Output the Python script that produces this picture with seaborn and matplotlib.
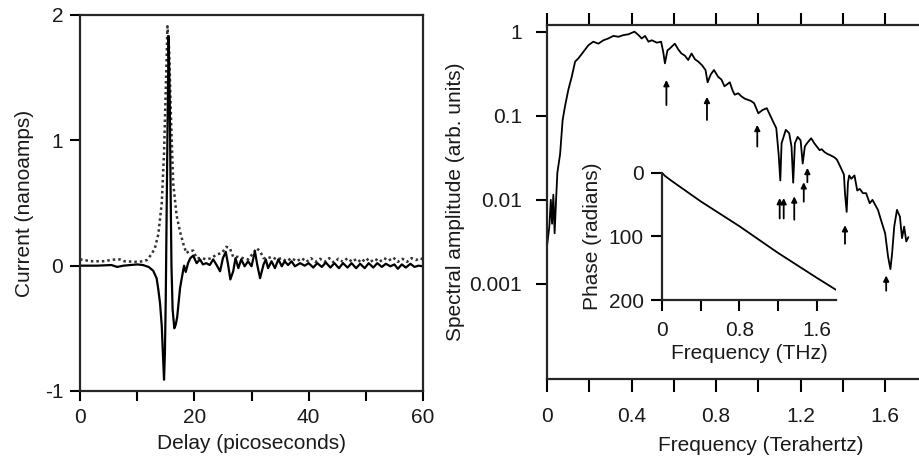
import matplotlib
matplotlib.use("Agg")
import matplotlib.pyplot as plt
import seaborn as sns
import pandas as pd

# ---- left panel: time-domain current (solid = sample, dotted = envelope)
delay_solid = [0, 3, 5.5, 6.5, 7.6, 10, 11, 12, 12.8, 13.4, 13.7, 14.0, 14.3, 14.5, 14.7,
               14.85, 15.0, 15.15, 15.3, 15.5, 15.7, 15.85, 16.0, 16.2, 16.5, 16.75, 17.0,
               17.5, 17.8, 18.2, 18.5, 18.9, 19.3, 19.8, 20.4, 21.0, 21.5, 22.1, 22.7, 23.3,
               23.9, 24.5, 25.0, 25.5, 25.9, 26.3, 26.8, 27.2, 27.7, 28.2, 28.8, 29.4, 30.0,
               30.6, 31.0, 31.5, 32.1, 32.5, 32.9, 33.5, 34.1, 34.7, 35.3, 35.8, 36.4, 37.0,
               37.6, 38.5, 39.3, 40.0, 40.8, 41.5, 42.3, 43.0, 43.8, 44.5, 45.3, 46.0, 46.8,
               47.5, 48.3, 49.0, 49.8, 50.5, 51.3, 52.0, 52.8, 53.5, 54.3, 55.0, 55.6, 56.3,
               57.0, 57.8, 58.5, 59.2, 60.0]
current_solid = [0.0, 0.0, 0.005, -0.01, 0.0, 0.01, 0.005, -0.01, -0.04, -0.10, -0.19, -0.30,
                 -0.48, -0.70, -0.91, -0.70, -0.27, 0.40, 1.06, 1.83, 1.32, 0.60, 0.0, -0.35,
                 -0.50, -0.47, -0.41, -0.18, -0.10, 0.0, -0.05, 0.02, 0.06, 0.08, 0.02, 0.05,
                 0.01, 0.02, 0.005, 0.05, 0.005, -0.045, 0.06, 0.11, 0.01, -0.11, -0.045, 0.06,
                 -0.02, 0.05, -0.005, 0.035, -0.005, 0.115, 0.008, -0.10, 0.008, 0.05, -0.02,
                 0.035, -0.02, 0.05, -0.005, 0.035, 0.005, 0.035, -0.005, 0.02, 0.0, 0.02,
                 -0.015, 0.02, -0.01, 0.025, -0.015, 0.02, -0.02, 0.02, -0.015, 0.02, -0.02,
                 0.015, -0.02, 0.02, -0.015, 0.02, -0.01, 0.015, -0.005, 0.01, -0.025, 0.01,
                 -0.015, 0.015, -0.01, 0.0, -0.005]

delay_dotted = [0, 2, 4, 5.8, 7.0, 7.8, 10, 11.0, 11.7, 12.5, 13.1, 13.7, 14.3, 14.7, 15.0,
                15.3, 15.6, 15.9, 16.3, 16.9, 17.5, 18.1, 18.6, 19.2, 19.8, 20.4, 21.3, 22.1,
                23.0, 23.9, 24.8, 25.6, 26.2, 26.8, 27.7, 28.5, 29.4, 30.3, 30.9, 31.5, 32.1,
                32.9, 33.5, 34.4, 35.3, 36.1, 37.0, 37.9, 38.8, 39.6, 40.4, 41.2, 42.0, 42.8,
                43.6, 44.4, 45.2, 46.0, 46.8, 47.6, 48.4, 49.2, 50.0, 50.8, 51.6, 52.4, 53.2,
                54.0, 54.8, 55.6, 56.4, 57.2, 58.0, 58.8, 59.5, 60.0]
current_dotted = [0.05, 0.035, 0.035, 0.048, 0.05, 0.035, 0.03, 0.035, 0.045, 0.09, 0.14,
                  0.25, 0.50, 0.90, 1.40, 1.91, 1.72, 1.20, 0.66, 0.40, 0.27, 0.17, 0.10,
                  0.12, 0.12, 0.06, 0.06, 0.05, 0.06, 0.09, 0.10, 0.15, 0.14, 0.07, 0.07,
                  0.06, 0.05, 0.10, 0.14, 0.115, 0.06, 0.06, 0.07, 0.05, 0.06, 0.035, 0.06,
                  0.035, 0.06, 0.03, 0.06, 0.03, 0.055, 0.03, 0.06, 0.025, 0.055, 0.03, 0.06,
                  0.03, 0.055, 0.025, 0.06, 0.03, 0.055, 0.03, 0.06, 0.04, 0.065, 0.03, 0.055,
                  0.03, 0.06, 0.045, 0.06, 0.05]

# ---- right panel: spectral amplitude (log scale)
freq = [0.000, 0.011, 0.018, 0.024, 0.030, 0.036, 0.043, 0.049, 0.062, 0.074, 0.085, 0.101,
        0.117, 0.133, 0.148, 0.172, 0.196, 0.219, 0.243, 0.267, 0.290, 0.314, 0.338, 0.362,
        0.385, 0.414, 0.433, 0.448, 0.464, 0.480, 0.496, 0.520, 0.540, 0.550, 0.558, 0.570,
        0.581, 0.605, 0.620, 0.636, 0.652, 0.668, 0.684, 0.700, 0.716, 0.733, 0.750, 0.760,
        0.775, 0.790, 0.810, 0.825, 0.840, 0.865, 0.878, 0.888, 0.905, 0.920, 0.935, 0.950,
        0.965, 0.980, 1.000, 1.020, 1.040, 1.070, 1.085, 1.096, 1.104, 1.110, 1.130, 1.146,
        1.157, 1.165, 1.173, 1.186, 1.200, 1.210, 1.220, 1.230, 1.250, 1.265, 1.280, 1.290,
        1.300, 1.313, 1.328, 1.340, 1.360, 1.372, 1.384, 1.405, 1.410, 1.418, 1.424, 1.430,
        1.440, 1.455, 1.468, 1.480, 1.495, 1.510, 1.527, 1.540, 1.566, 1.580, 1.600, 1.614,
        1.625, 1.633, 1.643, 1.656, 1.670, 1.680, 1.690, 1.700, 1.710]
amplitude = [0.0028, 0.0048, 0.010, 0.0052, 0.0115, 0.0040, 0.010, 0.021, 0.035, 0.089, 0.129,
             0.204, 0.29, 0.44, 0.48, 0.575, 0.69, 0.76, 0.72, 0.79, 0.83, 0.89, 0.87, 0.91,
             0.93, 1.0, 0.91, 0.83, 0.89, 0.76, 0.79, 0.74, 0.76, 0.575, 0.42, 0.60, 0.63,
             0.72, 0.62, 0.55, 0.52, 0.46, 0.55, 0.47, 0.44, 0.40, 0.35, 0.25, 0.31, 0.35,
             0.29, 0.27, 0.224, 0.25, 0.20, 0.178, 0.185, 0.17, 0.16, 0.155, 0.15, 0.141,
             0.107, 0.117, 0.123, 0.085, 0.071, 0.035, 0.017, 0.047, 0.068, 0.062, 0.043,
             0.016, 0.047, 0.056, 0.051, 0.027, 0.043, 0.047, 0.054, 0.047, 0.042, 0.039,
             0.040, 0.037, 0.035, 0.034, 0.032, 0.030, 0.026, 0.020, 0.012, 0.0072, 0.016,
             0.0195, 0.0178, 0.0195, 0.0129, 0.0135, 0.012, 0.012, 0.0091, 0.010, 0.0076,
             0.0058, 0.0040, 0.0021, 0.0015, 0.0023, 0.0048, 0.0076, 0.0063, 0.0035, 0.0048,
             0.0032, 0.0036]

# absorption-line arrows: frequency, arrow tip, arrow tail
arrow_freq = [0.565, 0.757, 0.995, 1.101, 1.120, 1.170, 1.215, 1.232, 1.410, 1.605]
arrow_tip = [0.266, 0.168, 0.078, 0.0105, 0.0105, 0.011, 0.0162, 0.024, 0.005, 0.00126]
arrow_tail = [0.134, 0.089, 0.043, 0.006, 0.006, 0.0058, 0.0095, 0.0162, 0.003, 0.00083]

# ---- inset: phase
phase_freq = [0.0, 0.03, 0.11, 0.4, 0.8, 1.2, 1.6, 1.8]
phase_rad = [0, 5, 14, 45, 84, 126, 165, 184]

sns.set_style("ticks")
plt.rcParams["font.family"] = ["Liberation Sans", "DejaVu Sans"]
plt.rcParams["font.size"] = 15
plt.rcParams["text.color"] = "#1a1a1a"
plt.rcParams["axes.labelcolor"] = "#1a1a1a"
plt.rcParams["xtick.color"] = "black"
plt.rcParams["ytick.color"] = "black"
plt.rcParams["xtick.labelcolor"] = "#1a1a1a"
plt.rcParams["ytick.labelcolor"] = "#1a1a1a"

W, H = 919, 457
FS = 15
fig = plt.figure(figsize=(W / 100, H / 100), dpi=100)


def px_axes(l, t, r, b):
    return fig.add_axes([l / W, 1 - b / H, (r - l) / W, (b - t) / H])


# ---- CHART A: time domain -----------------------------------------
ax = px_axes(80, 15, 423, 391)
sol = pd.DataFrame({"delay": delay_solid, "current": current_solid})
dot = pd.DataFrame({"delay": delay_dotted, "current": current_dotted})
sns.lineplot(data=dot, x="delay", y="current", ax=ax, color="#333333", lw=1.8,
             linestyle=(0, (1, 1.2)), estimator=None, sort=False)
sns.lineplot(data=sol, x="delay", y="current", ax=ax, color="black", lw=1.6,
             estimator=None, sort=False)
ax.set_xlim(0, 60)
ax.set_ylim(-1, 2)
ax.set_xticks(range(0, 61, 10))
ax.set_xticklabels(["0", "", "20", "", "40", "", "60"])
ax.set_yticks([-1, 0, 1, 2])
ax.set_yticklabels(["-1", "0", "1", "2"])
ax.tick_params(direction="out", length=7, width=1.5, pad=5, labelsize=FS)
for s in ax.spines.values():
    s.set_linewidth(1.6)
ax.set_xlabel("Delay (picoseconds)", fontsize=FS, labelpad=5)
ax.set_ylabel("Current (nanoamps)", fontsize=FS, labelpad=8)

# ---- CHART B: spectrum ---------------------------------------------
bx = px_axes(547, 25, 920, 379)
spec = pd.DataFrame({"freq": freq, "amp": amplitude})
sns.lineplot(data=spec, x="freq", y="amp", ax=bx, color="black", lw=1.3,
             estimator=None, sort=False)
bx.set_yscale("log")
bx.set_xlim(0, 1.765)
bx.set_ylim(7.4e-5, 1.2)
bx.set_yticks([1, 0.1, 0.01, 0.001])
bx.set_yticklabels(["1", "0.1", "0.01", "0.001"])
bx.yaxis.set_minor_locator(matplotlib.ticker.NullLocator())
bx.set_xticks([0, 0.2, 0.4, 0.6, 0.8, 1.0, 1.2, 1.4, 1.6])
bx.set_xticklabels(["0", "", "0.4", "", "0.8", "", "1.2", "", "1.6"])
bx.tick_params(axis="x", direction="out", length=9, width=1.5, pad=11, labelsize=FS,
               top=True)
bx.tick_params(axis="y", direction="out", length=8, width=1.5, pad=10, labelsize=FS)
bx.spines["right"].set_visible(False)
for s in ["left", "top", "bottom"]:
    bx.spines[s].set_linewidth(1.6)
bx.set_xlabel("Frequency (Terahertz)", fontsize=FS)
bx.xaxis.set_label_coords(0.573, -0.16)
bx.set_ylabel("Spectral amplitude (arb. units)", fontsize=FS)
bx.yaxis.set_label_coords(-0.22, 0.5)

for fx, tip, tail in zip(arrow_freq, arrow_tip, arrow_tail):
    bx.annotate("", xy=(fx, tip), xytext=(fx, tail),
                arrowprops=dict(arrowstyle="-|>", lw=1.3, color="black",
                                mutation_scale=8, shrinkA=0, shrinkB=0))

# ---- inset: phase --------------------------------------------------
ix = px_axes(662, 172.7, 836, 300)
ph = pd.DataFrame({"freq": phase_freq, "phase": phase_rad})
sns.lineplot(data=ph, x="freq", y="phase", ax=ix, color="black", lw=1.3,
             estimator=None, sort=False)
ix.set_xlim(0, 1.8)
ix.set_ylim(200, 0)
ix.set_xticks([0, 0.4, 0.8, 1.2, 1.6])
ix.set_xticklabels(["0", "", "0.8", "", "1.6"])
ix.set_yticks([0, 100, 200])
ix.set_yticklabels(["0", "100", "200"])
ix.tick_params(direction="out", length=8, width=1.5, pad=5, labelsize=FS)
ix.tick_params(axis="x", pad=7)
ix.patch.set_alpha(0)
sns.despine(ax=ix)
for s in ["left", "bottom"]:
    ix.spines[s].set_linewidth(1.6)
ix.set_xlabel("Frequency (THz)", fontsize=FS, labelpad=3)
ix.set_ylabel("Phase (radians)", fontsize=FS, labelpad=5)

fig.savefig("out.png", dpi=100)
